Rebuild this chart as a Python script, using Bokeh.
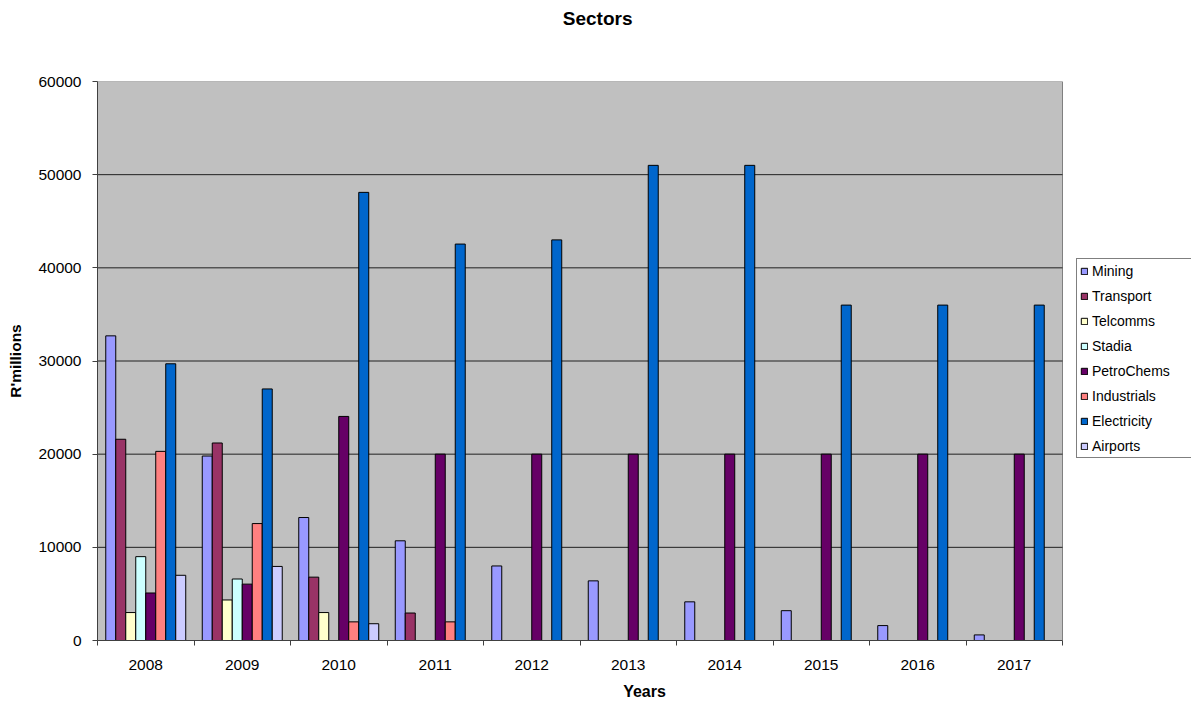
from bokeh.plotting import figure
from bokeh.models import (ColumnDataSource, Range1d, FixedTicker, Legend,
                          LegendItem, NumeralTickFormatter, Title)
from bokeh.embed import file_html
from bokeh.resources import INLINE

# Investment by sector, R'millions per year
years = ["2008", "2009", "2010", "2011", "2012", "2013", "2014", "2015", "2016", "2017"]
sectors = ["Mining", "Transport", "Telcomms", "Stadia", "PetroChems",
           "Industrials", "Electricity", "Airports"]

mining = [32700, 19800, 13200, 10700, 8000, 6400, 4150, 3200, 1600, 600]
transport = [21600, 21200, 6800, 2950, 0, 0, 0, 0, 0, 0]
telcomms = [3000, 4350, 3000, 0, 0, 0, 0, 0, 0, 0]
stadia = [9000, 6600, 0, 0, 0, 0, 0, 0, 0, 0]
petrochems = [5100, 6050, 24050, 20000, 20000, 20000, 20000, 20000, 20000, 20000]
industrials = [20300, 12550, 2000, 2000, 0, 0, 0, 0, 0, 0]
electricity = [29700, 27000, 48100, 42550, 43000, 51000, 51000, 36000, 36000, 36000]
airports = [7000, 7950, 1800, 0, 0, 0, 0, 0, 0, 0]

y_ticks = [0, 10000, 20000, 30000, 40000, 50000, 60000]

series = [mining, transport, telcomms, stadia, petrochems, industrials, electricity, airports]
colors = ["#9999FF", "#993366", "#FFFFCC", "#CCFFFF", "#660066", "#FF8080", "#0066CC", "#CCCCFF"]

FONT = "Liberation Sans"
W, H = 1191, 702
LEFT, AREA_RIGHT = 97, 1062          # plot-area edges in pixels
n_groups = len(years)
n_series = len(sectors)
bar_w = 0.1036
y_max = y_ticks[-1]

# the frame runs to the right edge so the legend can sit beside the grey area
x_end = n_groups * (W - LEFT) / (AREA_RIGHT - LEFT)

p = figure(width=W, height=H,
           x_range=Range1d(0, x_end), y_range=Range1d(0, y_max),
           output_backend="svg", toolbar_location=None,
           min_border_left=LEFT, min_border_right=0,
           min_border_top=81, min_border_bottom=61)

p.background_fill_color = "white"
p.border_fill_color = "white"
p.outline_line_color = None
p.xgrid.grid_line_color = None
p.ygrid.grid_line_color = None

# grey plot area with its border
p.quad(left=[0], right=[n_groups], bottom=[0], top=[y_max],
       fill_color="#C0C0C0", line_color="#808080", line_width=1)

# horizontal gridlines across the plot area
grid_y = y_ticks[1:-1]
p.segment(x0=[0] * len(grid_y), x1=[n_groups] * len(grid_y), y0=grid_y, y1=grid_y,
          line_color="#202020", line_width=1)

items = []
for k, (name, vals, col) in enumerate(zip(sectors, series, colors)):
    offset = (k - (n_series - 1) / 2) * bar_w
    xs = [i + 0.5 + offset for i, v in enumerate(vals) if v > 0]
    tops = [v for v in vals if v > 0]
    src = ColumnDataSource(dict(x=xs, top=tops))
    r = p.vbar(x="x", top="top", bottom=0, width=bar_w, source=src,
               fill_color=col, line_color="black", line_width=1)
    items.append(LegendItem(label=name, renderers=[r]))

# title, lifted clear of the plot area by an empty spacer title
p.title.text = "Sectors"
p.title.align = "right"
p.title.offset = 559
p.title.text_font = FONT
p.title.text_font_size = "19px"
p.title.text_font_style = "bold"
p.title.text_color = "black"
p.add_layout(Title(text=" ", text_font_size="32px"), "above")

# x axis: labels at category centres, ticks at category boundaries
xa = p.xaxis[0]
xa.bounds = (0, n_groups)
xa.ticker = FixedTicker(ticks=[i + 0.5 for i in range(n_groups)],
                        minor_ticks=list(range(n_groups + 1)))
xa.major_label_overrides = {i + 0.5: y for i, y in enumerate(years)}
xa.major_tick_in = 0
xa.major_tick_out = 0
xa.minor_tick_in = 0
xa.minor_tick_out = 5
xa.minor_tick_line_color = "#404040"
xa.axis_line_color = "#404040"
xa.axis_line_width = 1
xa.major_label_text_font = FONT
xa.major_label_text_font_size = "15.5px"
xa.major_label_text_color = "black"
xa.major_label_standoff = 14
xa.axis_label = "Years"
xa.axis_label_text_font = FONT
xa.axis_label_text_font_size = "16px"
xa.axis_label_text_font_style = "bold"
xa.axis_label_text_color = "black"
xa.axis_label_standoff = 10

ya = p.yaxis[0]
ya.ticker = FixedTicker(ticks=y_ticks)
ya.formatter = NumeralTickFormatter(format="0")
ya.major_tick_in = 0
ya.major_tick_out = 5
ya.major_tick_line_color = "#404040"
ya.minor_tick_line_color = None
ya.axis_line_color = "#404040"
ya.axis_line_width = 1
ya.major_label_text_font = FONT
ya.major_label_text_font_size = "15.5px"
ya.major_label_text_color = "black"
ya.major_label_standoff = 11
ya.axis_label = "R'millions"
ya.axis_label_text_font = FONT
ya.axis_label_text_font_size = "15.5px"
ya.axis_label_text_font_style = "bold"
ya.axis_label_text_color = "black"
ya.axis_label_standoff = 11

# legend to the right of the grey area
legend = Legend(items=items, location=(979, 182), orientation="vertical")
legend.border_line_color = "black"
legend.border_line_width = 1
legend.background_fill_color = "white"
legend.background_fill_alpha = 1
legend.label_text_font = FONT
legend.label_text_font_size = "14px"
legend.label_text_color = "black"
legend.glyph_width = 8
legend.glyph_height = 8
legend.label_standoff = 4
legend.label_height = 17
legend.label_width = 96
legend.spacing = 8
legend.padding = 3
legend.margin = 0
p.add_layout(legend)

open("out.html", "w").write(file_html(p, INLINE))
